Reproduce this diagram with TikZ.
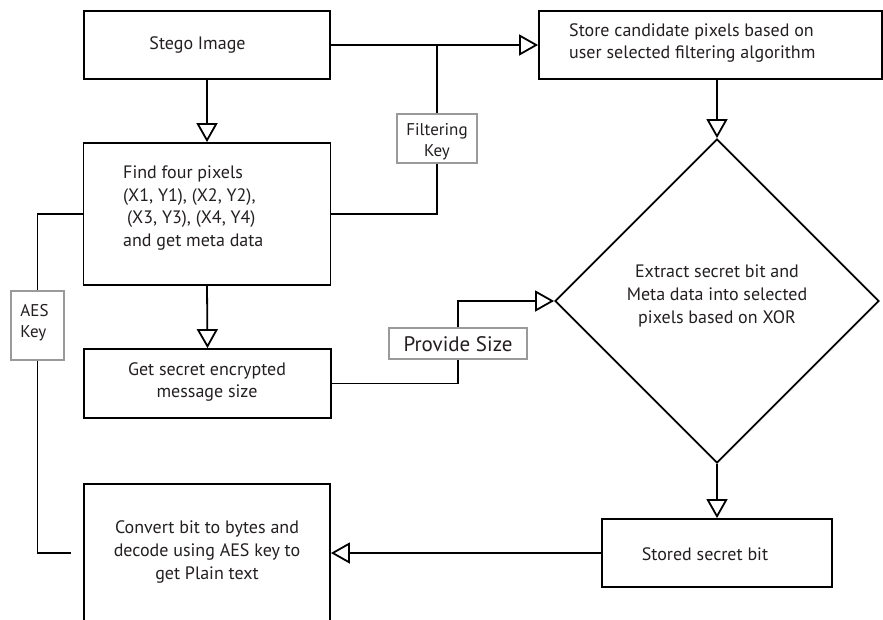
\documentclass[tikz,border=0pt]{standalone}
\usepackage{fontspec}
\setmainfont{PT Sans}
\usetikzlibrary{arrows.meta,shapes.geometric}
\definecolor{ink}{HTML}{231F20}
\definecolor{keyline}{HTML}{9A9A9A}
\begin{document}
\begin{tikzpicture}[x=1pt,y=-1pt,
  every node/.style={text=ink},
  txt/.style={font=\fontsize{18}{22.6}\selectfont, inner sep=0pt},
  stepbox/.style={draw=black, line width=1.8pt, inner sep=0pt},
  keybox/.style={draw=keyline, line width=1.8pt, inner sep=0pt, fill=white},
  conn/.style={draw=black, line width=1.8pt},
  arr/.style={conn, -{Triangle[open, length=19pt, width=21pt, line width=1.8pt]}}
]
\path[use as bounding box] (0,0) rectangle (883,619);
\clip (0,0) rectangle (883,619);

% process boxes
\node[stepbox, minimum width=246pt, minimum height=68pt] (stego) at (207,45) {};
\node[txt] (stegotxt) at (197.5,45) {Stego Image};

\node[stepbox, minimum width=343pt, minimum height=68pt] (store) at (710.5,45) {};
\node[txt, anchor=west, align=left] (storetxt) at (569,43)
  {Store candidate pixels based on\\user selected filtering algorithm};

\node[stepbox, minimum width=247pt, minimum height=142pt] (find) at (207,214) {};
\node[txt, anchor=west, align=left] (findtxt) at (123,208)
  {Find four pixels\\(X1, Y1), (X2, Y2),\\\hspace*{4pt}(X3, Y3), (X4, Y4)\\and get meta data};

\node[stepbox, minimum width=247pt, minimum height=69pt] (get) at (207.5,383.5) {};
\node[txt, align=center] (gettxt) at (207,382)
  {Get secret encrypted\\message size};

\node[stepbox, diamond, aspect=1, minimum width=324pt, minimum height=324pt] (dia) at (717,301) {};
\node[txt, align=center] (diatxt) at (717,296)
  {Extract secret bit and\\Meta data into selected\\pixels based on XOR};

\node[stepbox, minimum width=230pt, minimum height=68pt] (stored) at (717,553) {};
\node[txt] (storedtxt) at (705,554) {Stored secret bit};

\node[stepbox, minimum width=246pt, minimum height=160pt] (conv) at (207,564) {};
\node[txt, align=center] (convtxt) at (207,552)
  {Convert bit to bytes and\\decode using AES key to\\get Plain text};

% key labels
\node[keybox, minimum width=80pt, minimum height=49pt] (fk) at (437,138.5) {};
\node[txt, align=center, font=\fontsize{17}{21}\selectfont] (fktxt) at (437,142) {Filtering\\Key};

\node[keybox, minimum width=53pt, minimum height=69pt] (aes) at (37.5,325.5) {};
\node[txt, align=left, font=\fontsize{17}{21}\selectfont] (aestxt) at (34.5,322.5) {AES\\Key};

\node[keybox, minimum width=138pt, minimum height=31pt] (ps) at (458,343.5) {};
\node[txt, font=\fontsize{21}{24}\selectfont] (pstxt) at (458,344) {Provide Size};

% junction points
\coordinate (fj) at (437,45);
\coordinate (aesend) at (71,553);

% connectors
\draw[arr] (stego.south) -- (find.north);
\draw[arr] (stego.east) -- (store.west);
\draw[conn] (fj) -- (fk.north);
\draw[conn] (fk.south) |- (find.east);
\draw[arr] (store.south -| dia.north) -- (dia.north);
\draw[arr] (find.south) -- (get.north);
\draw[conn] (get.east) -| (ps.south);
\draw[arr] (ps.north) |- (dia.west);
\draw[arr] (dia.south) -- (stored.north);
\draw[arr] (stored.west) -- (stored.west -| conv.east);
\draw[conn] (find.west) -| (aes.north);
\draw[conn] (aes.south) |- (aesend);
\end{tikzpicture}
\end{document}
